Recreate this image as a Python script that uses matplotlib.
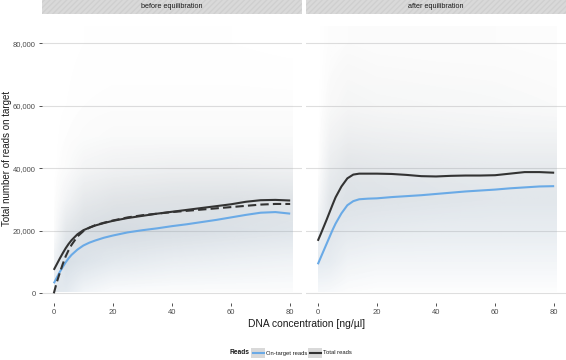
import numpy as np
import matplotlib
matplotlib.use("Agg")
import matplotlib.pyplot as plt
from matplotlib.colors import LinearSegmentedColormap
from matplotlib.image import NonUniformImage
from matplotlib.patches import Rectangle
from matplotlib.lines import Line2D

plt.rcParams['font.family'] = ['Liberation Sans', 'DejaVu Sans']

# facet titles
panels = ["before equilibration", "after equilibration"]

# smoothed curves (x in ng/ul, y in reads)
curve_x = [0, 1, 2, 3, 4, 5, 6, 8, 10, 12, 14, 17, 20, 25, 30, 35, 40, 45, 50, 55, 60, 65, 70, 75, 80]
before_total = [7500, 9300, 11100, 12800, 14400, 15800, 17000, 18900, 20200, 21000, 21700, 22500, 23200,
                24100, 24800, 25500, 26100, 26700, 27300, 27900, 28500, 29300, 29800, 29900, 29700]
before_total_alt = [0, 3500, 6500, 9300, 11800, 13800, 15500, 18200, 19900, 21000, 21800, 22600, 23300,
                    24300, 25000, 25500, 26000, 26400, 26800, 27200, 27600, 28000, 28400, 28600, 28600]
before_ontarget = [3200, 5000, 6800, 8400, 9900, 11200, 12300, 14000, 15300, 16200, 16900, 17800, 18500,
                   19500, 20200, 20800, 21500, 22100, 22800, 23500, 24300, 25100, 25800, 26000, 25500]
after_total = [16800, 19000, 21300, 23600, 26000, 28400, 30700, 34200, 36800, 38000, 38300, 38300, 38300,
               38200, 37900, 37500, 37400, 37600, 37700, 37700, 37800, 38300, 38800, 38800, 38600]
after_ontarget = [9300, 11500, 13700, 15900, 18100, 20300, 22300, 25600, 28200, 29500, 30100, 30300, 30400,
                  30800, 31100, 31400, 31800, 32200, 32600, 32900, 33200, 33600, 33900, 34200, 34300]

# estimated relative point density of the scatter clouds (rows: reads, cols: concentration)
dens_x = [0, 4, 10, 20, 40, 60, 80]
dens_y = [0, 10000, 20000, 30000, 40000, 50000, 60000, 80000]
before_total_dens = [
    [0.50, 0.40, 0.15, 0.05, 0.05, 0.05, 0.05],
    [0.30, 0.70, 0.60, 0.45, 0.35, 0.30, 0.25],
    [0.10, 0.60, 0.85, 0.90, 0.80, 0.70, 0.60],
    [0.05, 0.30, 0.60, 0.75, 0.80, 0.80, 0.75],
    [0.00, 0.10, 0.30, 0.40, 0.45, 0.45, 0.40],
    [0.00, 0.05, 0.10, 0.15, 0.15, 0.15, 0.15],
    [0.00, 0.02, 0.05, 0.06, 0.06, 0.06, 0.06],
    [0.00, 0.00, 0.02, 0.02, 0.02, 0.02, 0.01],
]
before_ontarget_dens = [
    [0.60, 0.60, 0.30, 0.10, 0.05, 0.05, 0.05],
    [0.30, 0.80, 0.70, 0.55, 0.40, 0.35, 0.30],
    [0.05, 0.40, 0.60, 0.70, 0.70, 0.65, 0.60],
    [0.00, 0.15, 0.30, 0.35, 0.40, 0.45, 0.45],
    [0.00, 0.05, 0.10, 0.12, 0.15, 0.15, 0.15],
    [0.00, 0.02, 0.04, 0.05, 0.05, 0.05, 0.05],
    [0.00, 0.00, 0.02, 0.02, 0.02, 0.02, 0.02],
    [0.00, 0.00, 0.00, 0.00, 0.00, 0.00, 0.00],
]
after_total_dens = [
    [0.10, 0.10, 0.05, 0.03, 0.03, 0.03, 0.03],
    [0.40, 0.40, 0.25, 0.20, 0.20, 0.20, 0.20],
    [0.30, 0.60, 0.50, 0.45, 0.40, 0.40, 0.40],
    [0.15, 0.65, 0.75, 0.70, 0.65, 0.60, 0.60],
    [0.05, 0.50, 0.70, 0.65, 0.60, 0.55, 0.55],
    [0.02, 0.35, 0.50, 0.45, 0.40, 0.35, 0.35],
    [0.01, 0.20, 0.30, 0.25, 0.22, 0.20, 0.15],
    [0.00, 0.10, 0.12, 0.10, 0.08, 0.08, 0.05],
]
after_ontarget_dens = [
    [0.20, 0.15, 0.05, 0.03, 0.03, 0.03, 0.03],
    [0.60, 0.50, 0.30, 0.25, 0.25, 0.25, 0.25],
    [0.30, 0.55, 0.50, 0.45, 0.45, 0.45, 0.45],
    [0.10, 0.45, 0.55, 0.55, 0.55, 0.50, 0.50],
    [0.02, 0.25, 0.35, 0.35, 0.35, 0.35, 0.35],
    [0.00, 0.10, 0.15, 0.15, 0.15, 0.15, 0.15],
    [0.00, 0.03, 0.06, 0.06, 0.06, 0.06, 0.05],
    [0.00, 0.01, 0.02, 0.02, 0.02, 0.02, 0.02],
]
# range covered by the scattered points
cloud_x = (0, 80.5)
cloud_y = (800, 85500)

x_ticks = [0, 20, 40, 60, 80]
y_ticks = [0, 20000, 40000, 60000, 80000]
y_ticklabels = ["0", "20,000", "40,000", "60,000", "80,000"]

BLUE = "#6aaae6"
DARK = "#333333"
GRID = "#dedede"


def fog_cmap(color, amax):
    rgb = matplotlib.colors.to_rgb(color)
    return LinearSegmentedColormap.from_list("fog", [(*rgb, 0.0), (*rgb, amax)])


def add_fog(ax, dens, cmap, z):
    im = NonUniformImage(ax, interpolation="bilinear", cmap=cmap, zorder=z)
    im.set_clim(0, 1)
    im.set_data(np.array(dens_x, float), np.array(dens_y, float), np.array(dens))
    ax.add_image(im)
    clip = Rectangle((cloud_x[0], cloud_y[0]), cloud_x[1] - cloud_x[0], cloud_y[1] - cloud_y[0],
                     transform=ax.transData)
    im.set_clip_path(clip)


fig = plt.figure(figsize=(5.66, 3.6), dpi=100)
W, H = 566.0, 360.0
panel_left = [42, 306]
panel_w = 260
panel_top, panel_bot = 14, 303

data = [
    (before_total_dens, before_ontarget_dens, before_total, before_ontarget, before_total_alt),
    (after_total_dens, after_ontarget_dens, after_total, after_ontarget, None),
]

gray_cmap = fog_cmap("#929292", 0.27)
blue_cmap = fog_cmap("#a2c8ec", 0.30)

for i, (tdens, odens, tline, oline, altline) in enumerate(data):
    ax = fig.add_axes([panel_left[i] / W, (H - panel_bot) / H, panel_w / W, (panel_bot - panel_top) / H])
    for s in ax.spines.values():
        s.set_visible(False)
    ax.set_xlim(-4, 84)
    ax.set_ylim(-3100, 89400)
    for yv in y_ticks:
        ax.axhline(yv, color=GRID, lw=0.8, zorder=0)

    add_fog(ax, odens, blue_cmap, 1)
    add_fog(ax, tdens, gray_cmap, 2)

    ax.plot(curve_x, oline, color=BLUE, lw=1.5, zorder=4, solid_capstyle="butt")
    ax.plot(curve_x, tline, color=DARK, lw=1.5, zorder=5, solid_capstyle="butt")
    if altline is not None:
        ax.plot(curve_x, altline, color=DARK, lw=1.5, ls=(0, (4, 2)), zorder=5)

    ax.set_xlim(-4, 84)
    ax.set_ylim(-3100, 89400)
    ax.set_xticks(x_ticks)
    ax.set_xticklabels([str(v) for v in x_ticks])
    ax.tick_params(axis="both", length=2.5, width=0.6, color="#333333",
                   labelsize=5.5, labelcolor="#4d4d4d", pad=2)
    if i == 0:
        ax.set_yticks(y_ticks)
        ax.set_yticklabels(y_ticklabels)
    else:
        ax.set_yticks([])

    # facet strip
    sax = fig.add_axes([panel_left[i] / W, (H - panel_top) / H, panel_w / W, panel_top / H])
    sax.set_xticks([])
    sax.set_yticks([])
    for s in sax.spines.values():
        s.set_visible(False)
    sax.add_patch(Rectangle((0, 0), 1, 1, transform=sax.transAxes, facecolor="#d9d9d9",
                            edgecolor="#cfcfcf", hatch="//////", lw=0))
    sax.text(0.5, 0.5, panels[i], ha="center", va="center", fontsize=5.2, color="#1a1a1a",
             transform=sax.transAxes)

fig.text(7 / W, 1 - 158 / H, "Total number of reads on target", rotation=90,
         ha="center", va="center", fontsize=7, color="#1a1a1a")
fig.text(306 / W, 1 - 324 / H, "DNA concentration [ng/\u00b5l]", ha="center", va="center",
         fontsize=7.4, color="#1a1a1a")

# legend at the bottom
ly = 1 - 353 / H
fig.text(230 / W, ly, "Reads", ha="left", va="center", fontsize=4.8, fontweight="bold", color="#1a1a1a")
keys = [(251, BLUE, "On-target reads"), (308, DARK, "Total reads")]
for kx, col, lab in keys:
    fig.add_artist(Rectangle((kx / W, 1 - 358 / H), 14 / W, 10 / H, transform=fig.transFigure,
                             facecolor="#d9d9d9", edgecolor="none"))
    fig.add_artist(Line2D([(kx + 1.5) / W, (kx + 12.5) / W], [ly, ly], transform=fig.transFigure,
                          color=col, lw=1.5))
    fig.text((kx + 15) / W, ly, lab, ha="left", va="center", fontsize=4.2, color="#1a1a1a")

fig.savefig("out.png", dpi=100)
